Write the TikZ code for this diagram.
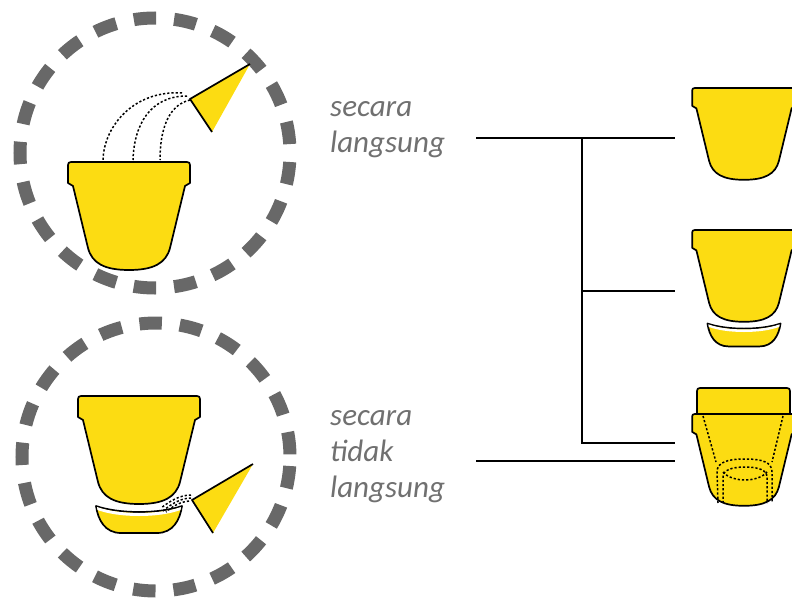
\documentclass[tikz,border=0pt]{standalone}
\usepackage{fontspec}
\setsansfont{Carlito}
\definecolor{potyellow}{RGB}{252,220,18}
\definecolor{ringgray}{RGB}{104,104,104}
\definecolor{labelgray}{RGB}{112,112,112}

% pot outline, origin at the middle of the rim top, y pointing down
\newcommand{\flowerpot}{%
\draw[potline] (-56,24) -- (-61,21) -- (-61,3) .. controls (-61,1) and (-60,0) .. (-58,0) -- (58,0) .. controls (60,0) and (61,1) .. (61,3) -- (61,21) -- (56,24) -- (41,86) .. controls (37,101) and (25,108) .. (0,108) .. controls (-25,108) and (-37,101) .. (-41,86) -- cycle;}
% saucer under the pot, same origin
\newcommand{\potsaucer}{%
\draw[potline] (-43,110) .. controls (-20,118) and (20,118) .. (43,110) .. controls (41,124) and (34,137) .. (18,137) -- (-18,137) .. controls (-34,137) and (-41,124) .. (-43,110) -- cycle;
\fill[white] (-42,111) .. controls (-20,119) and (20,119) .. (42,111) -- (41.5,114) .. controls (20,122) and (-20,122) .. (-41.5,114) -- cycle;}

\begin{document}
\begin{tikzpicture}[x=1pt,y=-1pt,
  potline/.style={draw=black,fill=potyellow,line width=1.7pt,line join=round},
  ring/.style={draw=ringgray,line width=13pt,dash pattern=on 22.4pt off 18pt,dash phase=31.4pt},
  water/.style={draw=black,line width=1.5pt,dash pattern=on 2.2pt off 2pt},
  branch/.style={draw=black,line width=1.6pt},
  caption/.style={font=\sffamily\itshape\fontsize{31}{36}\selectfont,text=labelgray,align=left,inner sep=0pt}]

\useasboundingbox (0,0) rectangle (792,602);
\clip (0,0) rectangle (792,602);

% watering straight into the pot
\begin{scope}
\draw[ring] (155,153) circle (135);
\draw[water] (182,93) .. controls (135,90) and (104,125) .. (103,160);
\draw[water] (187,96) .. controls (150,96) and (134,125) .. (133,160);
\draw[water] (190,100) .. controls (168,105) and (160,130) .. (160,160);
\begin{scope}[shift={(129,162)}]
\flowerpot
\end{scope}
\coordinate (can1) at (250,64);
\fill[potyellow] (can1) -- (190,99) -- (212,132) -- cycle;
\draw[line width=1.7pt,line join=round] (can1) -- (190,99) -- (212,132);
\end{scope}

% watering into the saucer
\begin{scope}
\draw[ring] (156,457) circle (134);
\begin{scope}[shift={(139,396)}]
\flowerpot
\potsaucer
\end{scope}
\draw[water] (191,495) .. controls (180,495) and (170,501) .. (161,508);
\draw[water] (191,498) .. controls (181,498) and (171,504) .. (163,511);
\draw[water] (189,501) .. controls (180,502) and (173,506) .. (166,512);
\coordinate (can2) at (253,464);
\fill[potyellow] (can2) -- (192,500) -- (213,533) -- cycle;
\draw[line width=1.7pt,line join=round] (can2) -- (192,500) -- (213,533);
\end{scope}

\node[caption,anchor=base west] (direct) at (330,152) {secara\\langsung};
\node[caption,anchor=base west] (indirect) at (330,497) {secara\\tidak\\langsung};

% branches to the pot types
\coordinate (d0) at (476,138);
\coordinate (fork) at (582,138);
\coordinate (d1) at (675,138);
\coordinate (k2) at (582,291);
\coordinate (d2) at (675,291);
\coordinate (k3) at (582,443);
\coordinate (d3) at (675,443);
\coordinate (i0) at (476,461);
\coordinate (i1) at (675,461);
\draw[branch] (d0) -- (d1);
\draw[branch] (fork) -- (k3) -- (d3);
\draw[branch] (k2) -- (d2);
\draw[branch] (i0) -- (i1);

\begin{scope}[shift={(744,88)},scale=0.85]
\flowerpot
\end{scope}

\begin{scope}[shift={(744,230)},scale=0.85]
\flowerpot
\potsaucer
\end{scope}

% pot set inside a bigger pot on a stand
\draw[potline] (697,416) -- (697,391) .. controls (697,389) and (698,388) .. (700,388) -- (787,388) .. controls (789,388) and (790,389) .. (790,391) -- (790,416) -- cycle;
\begin{scope}[shift={(744,414)},scale=0.85]
\flowerpot
\end{scope}
\draw[water] (703,416) -- (716,462);
\draw[water] (783,416) -- (772,462);
\draw[water] (718,503) -- (717,472) .. controls (717,462) and (728,459) .. (745,459) .. controls (762,459) and (772,462) .. (772,472) -- (772,503);
\draw[water] (723,503) -- (723,477) .. controls (723,470) and (732,467) .. (745,467) .. controls (758,467) and (767,470) .. (767,477) -- (767,503);
\draw[water] (723,472) .. controls (728,478) and (738,480) .. (745,480) .. controls (752,480) and (762,478) .. (767,472);

\end{tikzpicture}
\end{document}
